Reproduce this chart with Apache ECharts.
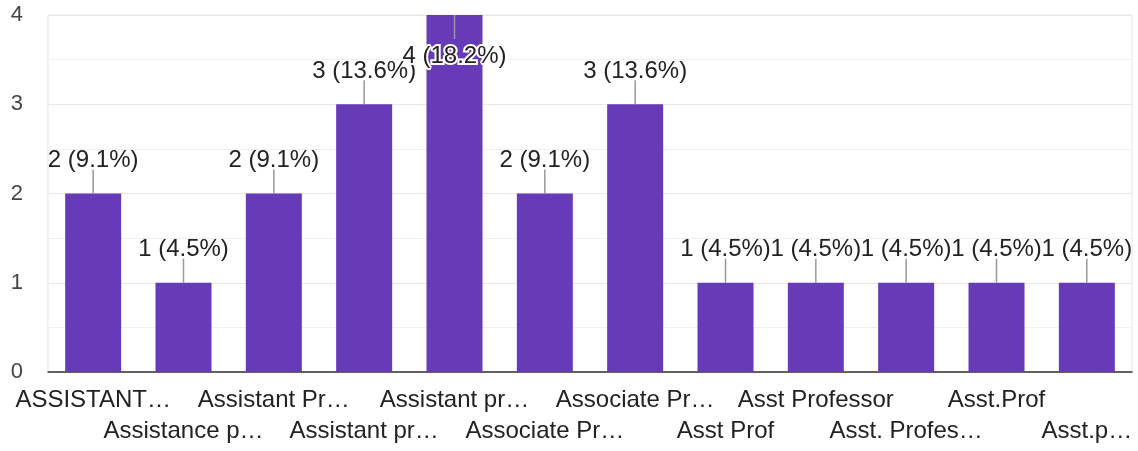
<!DOCTYPE html>
<html>
<head>
<meta charset="utf-8">
<script src="https://cdn.jsdelivr.net/npm/echarts@6/dist/echarts.min.js"></script>
<style>
html,body{margin:0;padding:0;background:#fff;}
#chart{width:1138px;height:451px;}
</style>
</head>
<body>
<div id="chart"></div>
<script>
const categories = ['ASSISTANT…', 'Assistance p…', 'Assistant Pr…', 'Assistant pr…', 'Assistant pr…', 'Associate Pr…', 'Associate Pr…', 'Asst Prof', 'Asst Professor', 'Asst. Profes…', 'Asst.Prof', 'Asst.p…'];
const counts = [2, 1, 2, 3, 4, 2, 3, 1, 1, 1, 1, 1];
const yTicks = [0, 1, 2, 3, 4];

const total = counts.reduce((a, b) => a + b, 0);
const FONT = '"Liberation Sans", Arial, sans-serif';

const chart = echarts.init(document.getElementById('chart'));
chart.setOption({
  animation: false,
  grid: {
    left: 48, right: 6, top: 15, bottom: 79,
    show: true, borderColor: '#e6e6e6', borderWidth: 1, backgroundColor: 'transparent'
  },
  xAxis: {
    type: 'category',
    data: categories,
    axisLine: { lineStyle: { color: '#333', width: 1.5 } },
    axisTick: { show: false },
    axisLabel: {
      interval: 0,
      hideOverlap: false,
      fontFamily: FONT,
      fontSize: 24,
      color: '#222',
      lineHeight: 31,
      margin: 13,
      formatter: (v, i) => (i % 2 ? '\n' + v : v)
    }
  },
  yAxis: {
    type: 'value',
    min: yTicks[0],
    max: yTicks[yTicks.length - 1],
    interval: 1,
    axisLine: { show: false },
    axisTick: { show: false },
    axisLabel: { fontFamily: FONT, fontSize: 22, color: '#444', margin: 25 },
    splitLine: { lineStyle: { color: '#e8e8e8', width: 1 } },
    minorTick: { show: false, splitNumber: 2 },
    minorSplitLine: { show: true, lineStyle: { color: '#f0f0f0', width: 1 } }
  },
  series: [
    {
      type: 'bar',
      data: counts,
      barWidth: '62%',
      itemStyle: { color: '#673ab7' },
      z: 2
    },
    {
      type: 'custom',
      z: 5,
      clip: false,
      data: counts.map((v, i) => [i, v]),
      renderItem: function (params, api) {
        const i = api.value(0), v = api.value(1);
        const p = api.coord([i, v]);
        const top = params.coordSys.y;
        const L = 24;
        const flip = p[1] - L - 24 < top;
        const y2 = flip ? p[1] + L : p[1] - L;
        const ty = flip ? y2 + 17 : y2 - 9;
        const text = v + ' (' + (v / total * 100).toFixed(1) + '%)';
        return {
          type: 'group',
          children: [
            { type: 'line', shape: { x1: p[0], y1: p[1], x2: p[0], y2: y2 },
              style: { stroke: '#999', lineWidth: 1.5 } },
            { type: 'text', x: p[0], y: ty,
              style: {
                text: text, fill: '#222', fontFamily: FONT, fontSize: 24,
                align: 'center', verticalAlign: 'middle',
                stroke: flip ? '#fff' : 'transparent', lineWidth: flip ? 4 : 0
              } }
          ]
        };
      }
    }
  ]
});
</script>
</body>
</html>
